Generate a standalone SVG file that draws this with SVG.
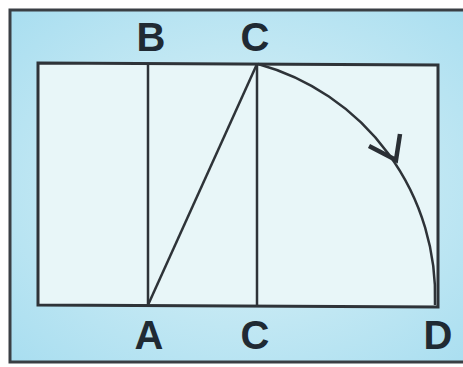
<svg xmlns="http://www.w3.org/2000/svg" width="463" height="367" viewBox="0 0 463 367">
<defs>
<radialGradient id="bg" cx="0.5" cy="0.5" r="0.7">
<stop offset="0" stop-color="#dff3f7"/>
<stop offset="1" stop-color="#a9def0"/>
</radialGradient>
<style>
.ln{stroke:#2e3338;stroke-width:2.5;fill:none}
.lbl{font-family:"Liberation Sans",Arial,sans-serif;font-weight:bold;font-size:40px;fill:#1f2a33;text-anchor:middle}
</style>
</defs>
<rect x="0" y="0" width="463" height="367" fill="#ffffff"/>
<rect x="10" y="10" width="470" height="352" fill="url(#bg)" stroke="#3a3f44" stroke-width="3"/>
<g id="rect">
<path d="M38,63 L438,65 L438,307 L38,305 Z" fill="#e8f6f8" stroke="#2e3338" stroke-width="3"/>
</g>
<g id="connectors">
<line class="ln" x1="148" y1="63" x2="148" y2="305"/>
<line class="ln" x1="257" y1="64" x2="257" y2="306"/>
<line class="ln" x1="148" y1="305" x2="257" y2="64"/>
<path class="ln" d="M258,64 A241,241 0 0 1 435,305"/>
<path d="M369,146 L396,160 L400,134" fill="none" stroke="#2a2f35" stroke-width="4.5" stroke-linejoin="miter"/>
</g>
<g id="labels">
<text class="lbl" x="151" y="51">B</text>
<text class="lbl" x="255" y="51">C</text>
<text class="lbl" x="149" y="349">A</text>
<text class="lbl" x="255" y="349">C</text>
<text class="lbl" x="438" y="349">D</text>
</g>
</svg>
